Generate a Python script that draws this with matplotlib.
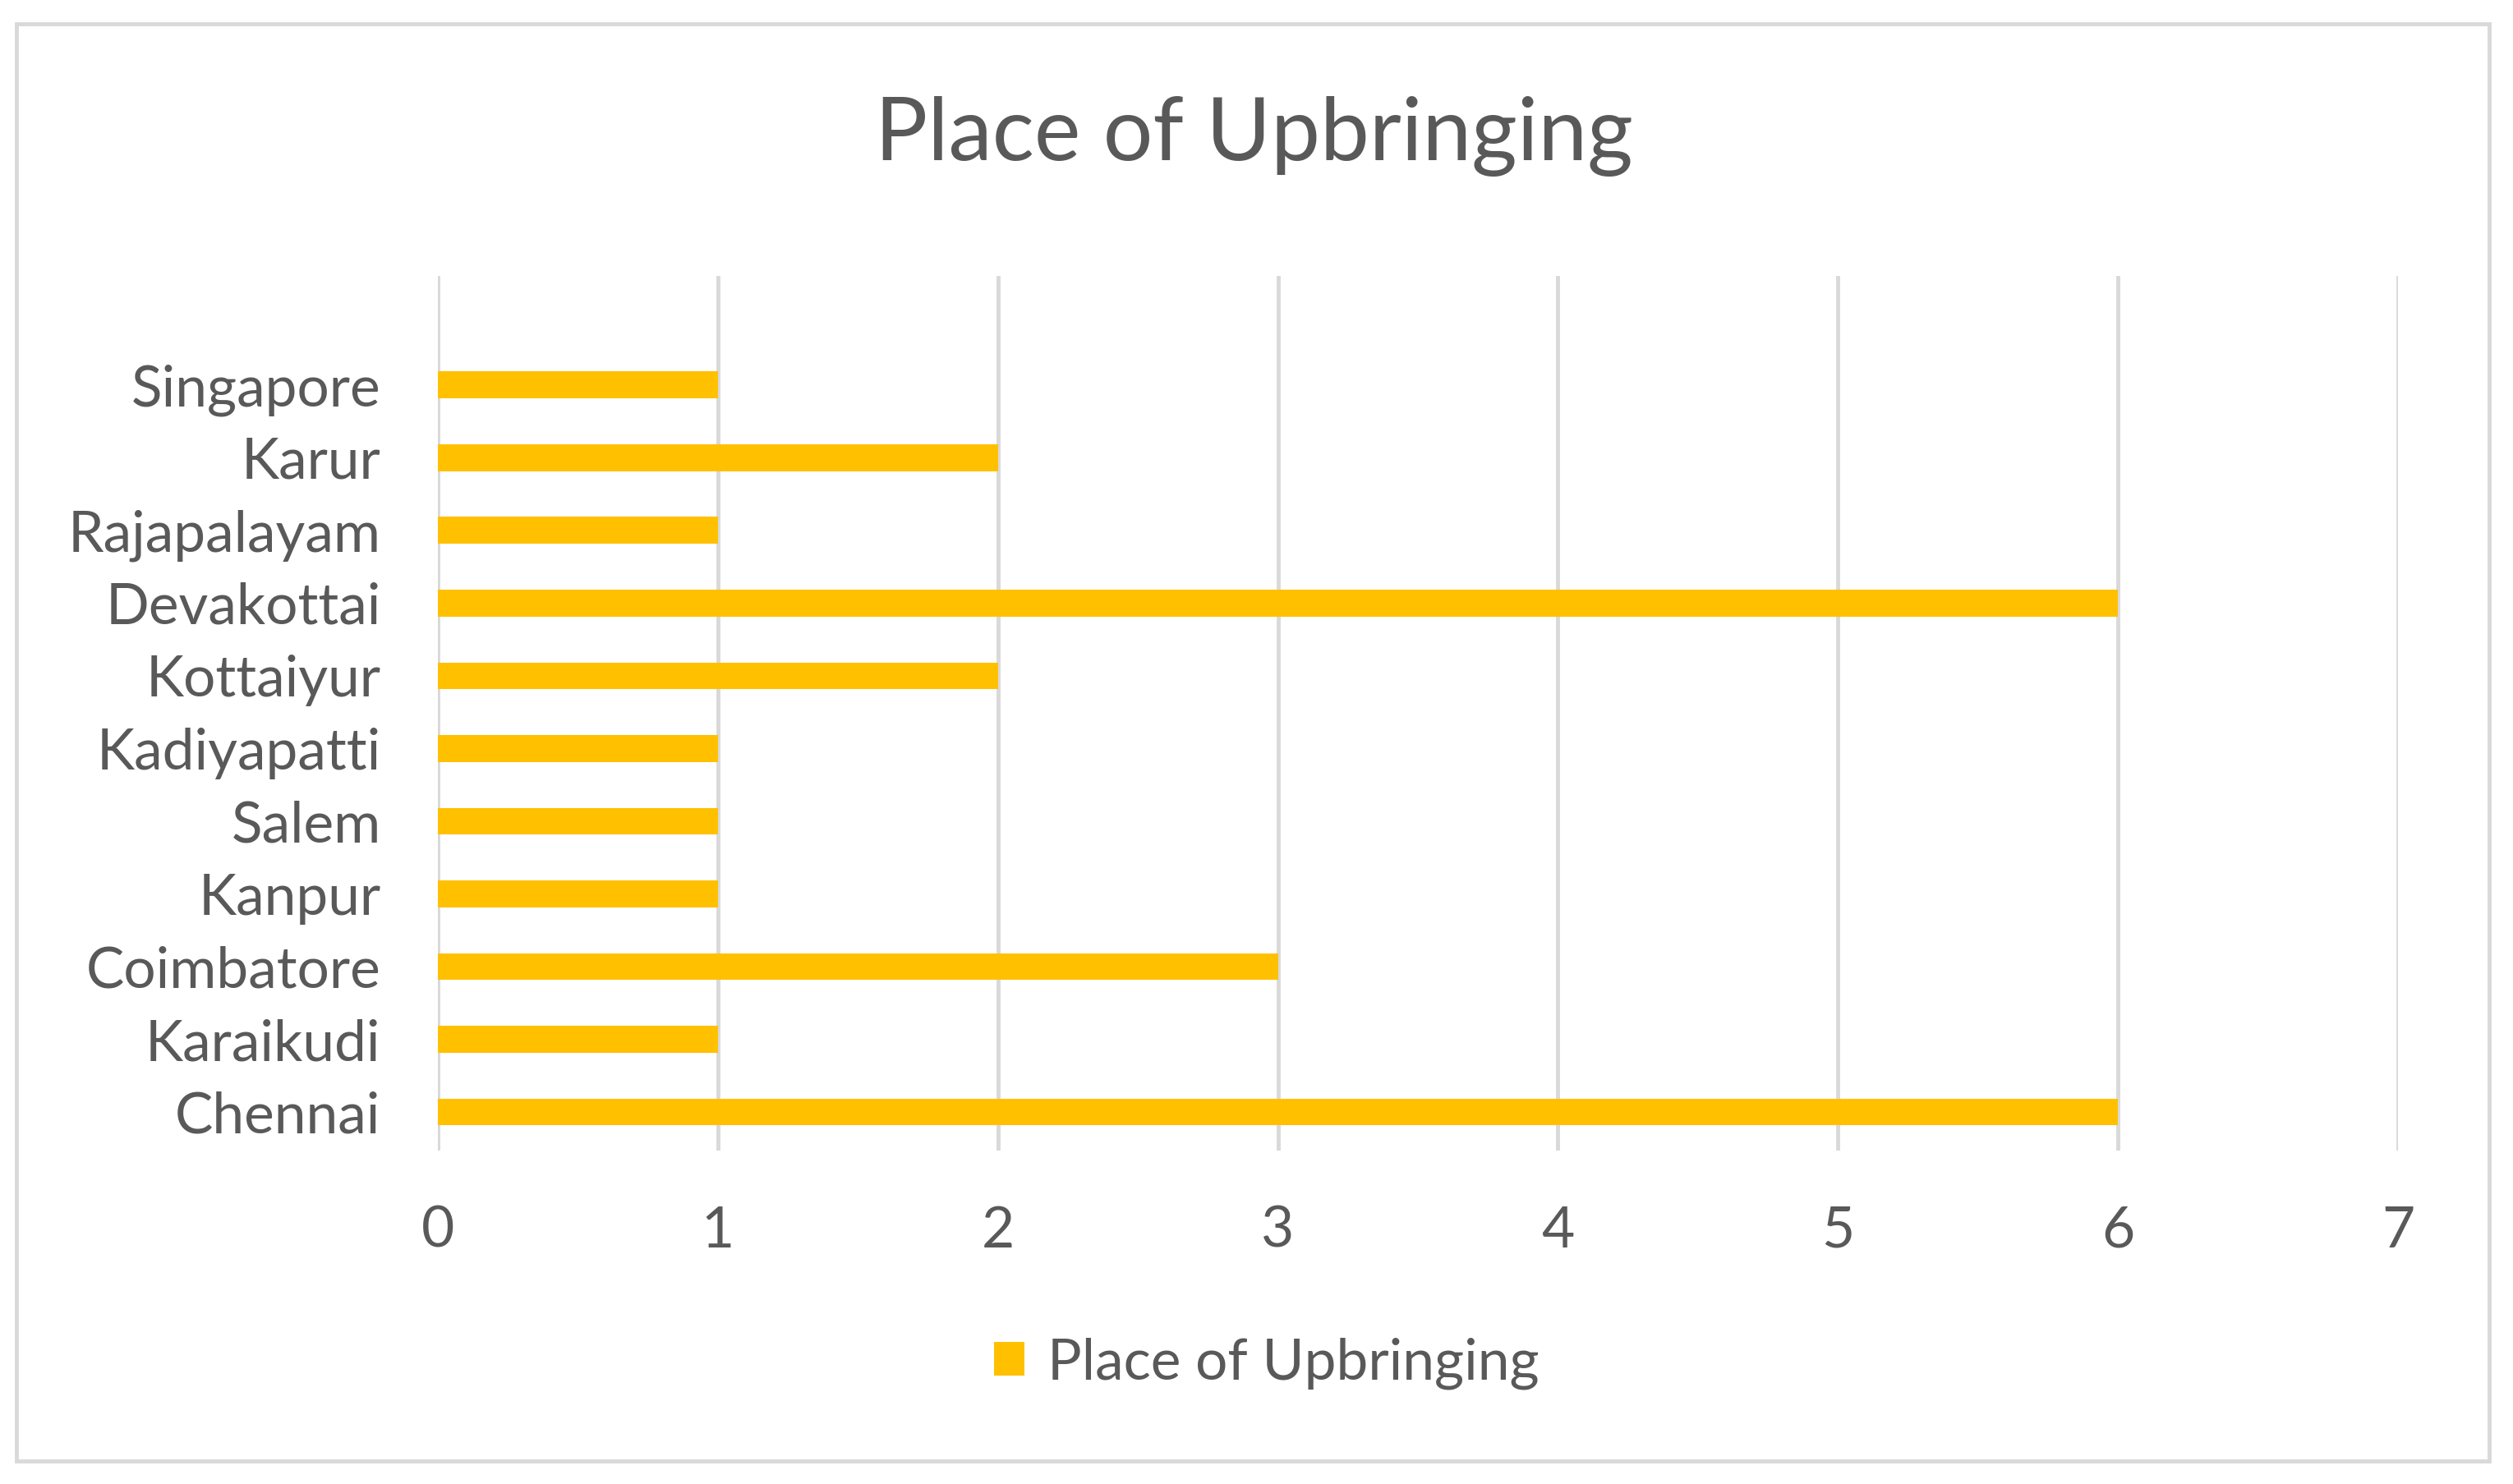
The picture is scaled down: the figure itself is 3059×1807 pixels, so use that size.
import matplotlib
matplotlib.use("Agg")
import matplotlib.pyplot as plt
from matplotlib.patches import Rectangle, Patch

places = ["Chennai", "Karaikudi", "Coimbatore", "Kanpur", "Salem", "Kadiyapatti",
          "Kottaiyur", "Devakottai", "Rajapalayam", "Karur", "Singapore"]
counts = [6, 1, 3, 1, 1, 1, 2, 6, 1, 2, 1]
x_ticks = [0, 1, 2, 3, 4, 5, 6, 7]
title = "Place of Upbringing"
series_name = "Place of Upbringing"

BAR = "#FFC000"
GRID = "#D9D9D9"
TXT = "#595959"
FONT = ["Lato", "DejaVu Sans"]

W, H, DPI = 3059, 1807, 100
fig = plt.figure(figsize=(W / DPI, H / DPI), dpi=DPI)
fig.patch.set_facecolor("white")

# outer chart border
fig.patches.append(Rectangle((20 / W, 1 - 1779 / H), 3010 / W, 1750 / H,
                             transform=fig.transFigure, fill=False,
                             edgecolor=GRID, linewidth=3.5))

ax = fig.add_axes([533 / W, 1 - 1401 / H, (2919 - 533) / W, (1401 - 336) / H])
ypos = list(range(len(places)))
ax.barh(ypos, counts, height=0.37, color=BAR, zorder=3, label=series_name)

ax.set_xlim(0, 7)
ax.set_ylim(-0.53, 11.5)
ax.set_xticks(x_ticks)
ax.set_xticklabels([str(t) for t in x_ticks], fontsize=50, color=TXT, family=FONT)
ax.set_yticks(ypos)
ax.set_yticklabels(places, fontsize=50, color=TXT, family=FONT)
ax.tick_params(axis="both", length=0)
ax.tick_params(axis="y", pad=50)
ax.tick_params(axis="x", pad=48)
for s in ax.spines.values():
    s.set_visible(False)
ax.grid(axis="x", color=GRID, linewidth=3.5, zorder=0)
ax.set_axisbelow(True)

fig.text(0.499, 1 - 166 / H, title, ha="center", va="center",
         fontsize=77, color=TXT, family=FONT)

leg = fig.legend(handles=[Patch(facecolor=BAR, edgecolor="none", label=series_name)],
                 loc="center", bbox_to_anchor=(0.504, 1 - 1660 / H), frameon=False,
                 prop={"family": FONT, "size": 50}, handlelength=0.54, handleheight=0.54,
                 handletextpad=0.4)
for t in leg.get_texts():
    t.set_color(TXT)

fig.savefig("out.png", dpi=DPI, facecolor="white")
